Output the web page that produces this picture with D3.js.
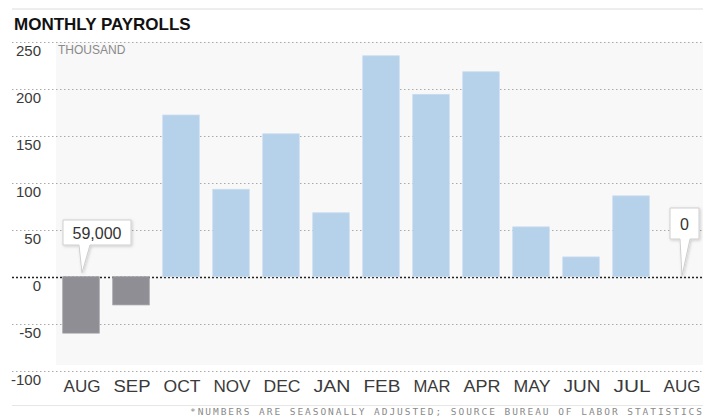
<!DOCTYPE html>
<html>
<head>
<meta charset="utf-8">
<script src="https://cdn.jsdelivr.net/npm/d3@7"></script>
<style>
  body { margin: 0; background: #fff; }
  svg { display: block; font-family: "Liberation Sans", Arial, sans-serif; }
</style>
</head>
<body>
<svg id="chart" width="703" height="417"></svg>
<script>
// months from Aug 2010 to Aug 2011, values in thousands
const months = ['AUG', 'SEP', 'OCT', 'NOV', 'DEC', 'JAN', 'FEB', 'MAR', 'APR', 'MAY', 'JUN', 'JUL', 'AUG'];
const payrolls = [-60, -30, 172, 93, 152, 68, 235, 194, 218, 53, 21, 86, 0];
const yTicks = [250, 200, 150, 100, 50, 0, -50, -100];
const callouts = [{ i: 0, text: '59,000' }, { i: 12, text: '0' }];

const svg = d3.select('#chart');
const W = 703;

const x = d3.scaleBand()
	.domain(d3.range(months.length))
	.range([56, 706])
	.paddingInner(0.27)
	.paddingOuter(0.135);

const y = d3.scaleLinear()
	.domain([-100, 250])
	.range([370.7, 41.7]);

// top rule + title
svg.append('line')
	.attr('x1', 12).attr('x2', W).attr('y1', 9).attr('y2', 9)
	.attr('stroke', '#dcdcdc');
svg.append('text')
	.attr('x', 14).attr('y', 30)
	.attr('font-size', 17).attr('font-weight', 'bold').attr('fill', '#111')
	.text('MONTHLY PAYROLLS');

// plot background
svg.append('rect')
	.attr('x', 56).attr('y', y(250))
	.attr('width', W - 56).attr('height', 365 - y(250))
	.attr('fill', '#f8f8f8');

// gridlines
const grid = svg.append('g');
grid.selectAll('line')
	.data(yTicks)
	.join('line')
	.attr('x1', 12).attr('x2', W)
	.attr('y1', d => Math.round(y(d)) + 0.5).attr('y2', d => Math.round(y(d)) + 0.5)
	.attr('stroke', d => d === 0 ? '#222' : '#aaa')
	.attr('stroke-width', d => d === 0 ? 1.5 : 1)
	.attr('stroke-dasharray', d => d === 0 ? '2,2' : '1.5,2.5');

// y labels, sitting below each line
const yAxis = d3.axisLeft(y).tickValues(yTicks).tickFormat(d => String(d)).tickSize(0).tickPadding(0);
const gY = svg.append('g').attr('transform', 'translate(41,14)').call(yAxis);
gY.select('.domain').remove();
gY.selectAll('text')
	.attr('font-size', 15).attr('fill', '#3a3a3a')
	.attr('font-family', '"Liberation Sans", Arial, sans-serif')
	.attr('dy', 0);

svg.append('text')
	.attr('x', 58).attr('y', 54)
	.attr('font-size', 12).attr('fill', '#8a8a8a')
	.text('THOUSAND');

// bars
svg.append('g')
	.selectAll('rect')
	.data(payrolls)
	.join('rect')
	.attr('x', (d, i) => x(i))
	.attr('width', x.bandwidth())
	.attr('y', d => y(Math.max(0, d)))
	.attr('height', d => Math.abs(y(d) - y(0)))
	.attr('fill', d => d < 0 ? '#8f8e94' : '#b6d1ea')
	.attr('stroke', d => d < 0 ? '#a09fa4' : '#c9dcee')
	.attr('stroke-width', 0.8);

// x labels
const xAxis = d3.axisBottom(x).tickFormat(i => months[i]).tickSize(0).tickPadding(0);
const gX = svg.append('g').attr('transform', 'translate(1,381)').call(xAxis);
gX.select('.domain').remove();
gX.selectAll('text')
	.attr('font-size', 16).attr('fill', '#3a3a3a')
	.attr('font-family', '"Liberation Sans", Arial, sans-serif')
	.attr('textLength', 37).attr('lengthAdjust', 'spacingAndGlyphs');

// callouts
const defs = svg.append('defs');
const f = defs.append('filter').attr('id', 'sh').attr('x', '-20%').attr('y', '-20%').attr('width', '150%').attr('height', '150%');
f.append('feDropShadow').attr('dx', 1).attr('dy', 1).attr('stdDeviation', 1.5).attr('flood-color', '#000').attr('flood-opacity', 0.18);

callouts.forEach(c => {
	const cx = x(c.i) + x.bandwidth() / 2;
	const tipY = y(0) - 4;
	const g = svg.append('g');
	let pts;
	if (c.i === 0) {
		const bx = cx - 18, bw = 68, by = 220, bh = 25;
		pts = [[bx, by], [bx + bw, by], [bx + bw, by + bh], [cx + 9, by + bh], [cx + 1, tipY], [cx - 2, by + bh], [bx, by + bh]];
		g.append('path').attr('d', d3.line()(pts) + 'Z')
			.attr('fill', '#fff').attr('stroke', '#cfcfcf').attr('filter', 'url(#sh)');
		g.append('text').attr('x', bx + bw / 2).attr('y', by + 19)
			.attr('text-anchor', 'middle').attr('font-size', 16).attr('fill', '#333').text(c.text);
	} else {
		const bx = cx - 11, bw = 29, by = 208, bh = 31;
		pts = [[bx, by], [bx + bw, by], [bx + bw, by + bh], [cx + 9, by + bh], [cx + 1, tipY + 3], [cx - 1, by + bh], [bx, by + bh]];
		g.append('path').attr('d', d3.line()(pts) + 'Z')
			.attr('fill', '#fff').attr('stroke', '#cfcfcf').attr('filter', 'url(#sh)');
		g.append('text').attr('x', bx + bw / 2).attr('y', by + 22)
			.attr('text-anchor', 'middle').attr('font-size', 16).attr('fill', '#333').text(c.text);
	}
});

// footer
svg.append('line')
	.attr('x1', 12).attr('x2', W).attr('y1', 405.5).attr('y2', 405.5)
	.attr('stroke', '#e6e6e6');
svg.append('text')
	.attr('x', 702).attr('y', 415)
	.attr('text-anchor', 'end')
	.attr('font-family', '"DejaVu Sans Mono", monospace')
	.attr('font-size', 9.5).attr('fill', '#8a8a8a')
	.attr('textLength', 512).attr('lengthAdjust', 'spacing')
	.text('*NUMBERS ARE SEASONALLY ADJUSTED; SOURCE BUREAU OF LABOR STATISTICS');
</script>
</body>
</html>
